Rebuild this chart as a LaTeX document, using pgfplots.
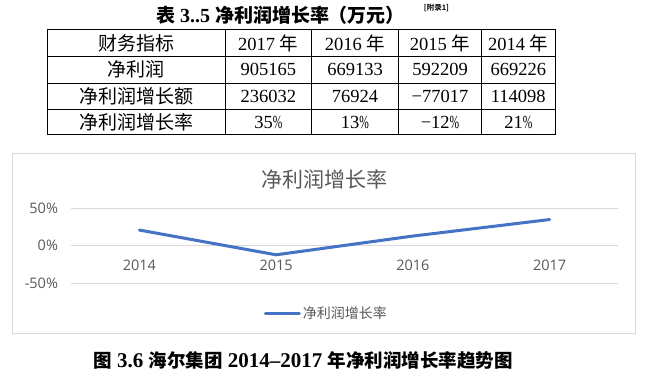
\documentclass[border=0pt]{standalone}
\usepackage{fontspec}
\usepackage{graphicx}
\usepackage{pgfplots}
\pgfplotsset{compat=1.18}
\setmainfont{Liberation Serif}
\newfontfamily\cjk{Noto Sans CJK SC}
\newfontfamily\cjkb{Noto Sans CJK SC Bold}
\newfontfamily\chartfont{Open Sans}
\definecolor{linecol}{HTML}{4472C4}
\definecolor{txtgray}{HTML}{595959}
\definecolor{gridgray}{HTML}{D9D9D9}
\newcommand{\pc}{\scalebox{0.62}[1]{\%}}
\begin{document}
\begin{tikzpicture}[x=1pt,y=1pt]
\path[fill=white,use as bounding box] (0,0) rectangle (665,376);
% ---- table title
\node[font=\bfseries\fontsize{20}{22}\selectfont, inner sep=0pt] at (280.5,361)
  {{\cjkb\fontsize{19}{22}\selectfont 表} 3..5 {\cjkb\fontsize{19}{22}\selectfont 净利润增长率（万元）}};
\node[font=\cjkb\fontsize{7.5}{9}\selectfont, inner sep=0pt] at (436.5,368.5) {[附录1]};
% ---- table grid
\draw[line width=0.8pt] (47.3,346.3) rectangle (555,241.5);
\foreach \yy in {319.7,293,266.3} \draw[line width=0.8pt] (47.3,\yy) -- (555,\yy);
\foreach \xx in {225,311.7,398.3,481.7} \draw[line width=0.8pt] (\xx,346.3) -- (\xx,241.5);
% ---- table text
\begin{scope}[every node/.style={font=\fontsize{18.5}{20}\selectfont, inner sep=0pt, anchor=center}]
\node at (136.2,333) {\cjk\fontsize{19}{20}\selectfont 财务指标};
\node at (268.3,333) {2017 {\cjk 年}};
\node at (355,333) {2016 {\cjk 年}};
\node at (440,333) {2015 {\cjk 年}};
\node at (518.3,333) {2014 {\cjk 年}};
\node at (136.2,306.3) {\cjk\fontsize{19}{20}\selectfont 净利润};
\node at (268.3,306.3) {905165};
\node at (355,306.3) {669133};
\node at (440,306.3) {592209};
\node at (518.3,306.3) {669226};
\node at (136.2,279.7) {\cjk\fontsize{19}{20}\selectfont 净利润增长额};
\node at (268.3,279.7) {236032};
\node at (355,279.7) {76924};
\node at (440,279.7) {−77017};
\node at (518.3,279.7) {114098};
\node at (136.2,253.9) {\cjk\fontsize{19}{20}\selectfont 净利润增长率};
\node at (268.3,253.9) {35\pc};
\node at (355,253.9) {13\pc};
\node at (440,253.9) {−12\pc};
\node at (518.3,253.9) {21\pc};
\end{scope}
% ---- chart frame and title
\draw[gridgray, line width=1pt] (12.3,222.7) rectangle (635,42.7);
\node[font=\cjk\fontsize{21}{24}\selectfont, text=txtgray, inner sep=0pt] at (324.7,197) {净利润增长率};
% ---- chart
\begin{axis}[
  at={(71pt,92.7pt)}, anchor=south west,
  scale only axis, width=547pt, height=75pt,
  xmin=-0.5, xmax=3.5, ymin=-50, ymax=50,
  axis line style={draw=none},
  major tick length=0pt,
  ytick={-50,0,50}, yticklabels={-50\%,0\%,50\%},
  ymajorgrids, grid style={draw=gridgray, line width=1pt},
  xtick={0,1,2,3}, xticklabels={2014,2015,2016,2017},
  ticklabel style={font=\chartfont\fontsize{14.5}{16}\selectfont, text=txtgray},
  xticklabel style={anchor=center, yshift=18.3pt},
  yticklabel style={anchor=east, xshift=-9.5pt},
  clip=false,
  legend style={at={(0.467,-0.396)}, anchor=center, draw=none, fill=none,
    font=\cjk\fontsize{14}{16}\selectfont, text=txtgray},
  legend image code/.code={\draw[#1] (0pt,0pt) -- (34pt,0pt);},
]
\addplot[color=linecol, line width=3pt, line join=round, line cap=round] coordinates {
  (0,21) (1,-12) (2,13) (3,35)
};
\addlegendentry{净利润增长率}
\end{axis}
% ---- caption
\node[font=\bfseries\fontsize{21}{24}\selectfont, inner sep=0pt] at (303,16)
  {{\cjkb\fontsize{18.5}{22}\selectfont 图} 3.6 {\cjkb\fontsize{18.5}{22}\selectfont 海尔集团} 2014–2017 {\cjkb\fontsize{18.5}{22}\selectfont 年净利润增长率趋势图}};
\end{tikzpicture}
\end{document}
